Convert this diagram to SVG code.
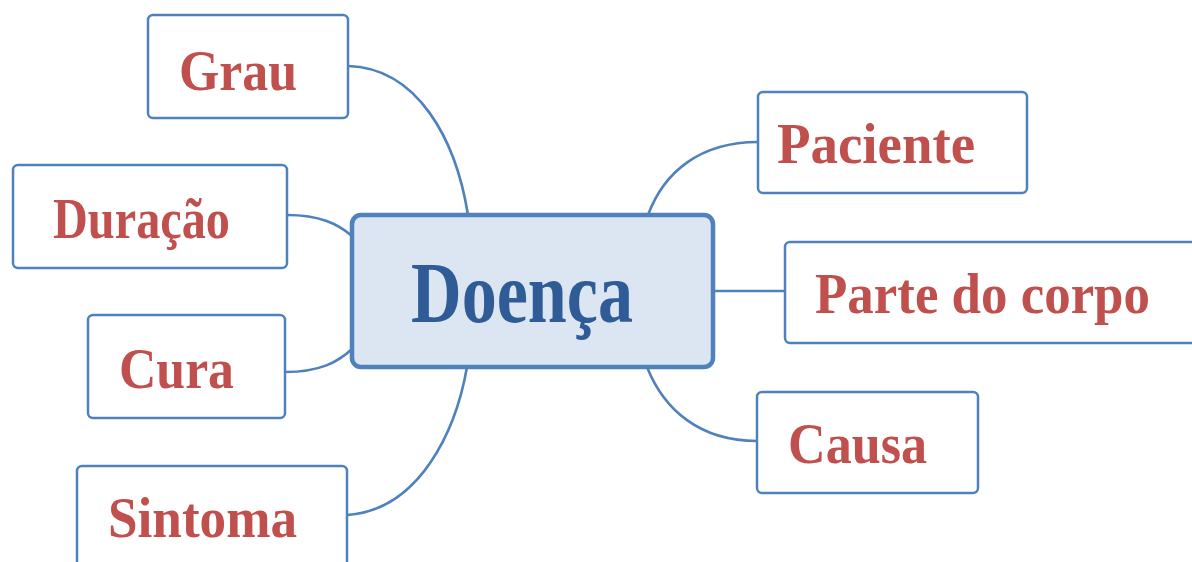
<svg xmlns="http://www.w3.org/2000/svg" width="1192" height="562" viewBox="0 0 1192 562">
  <style>
    .box { fill: #ffffff; stroke: #4f81bd; stroke-width: 2.5; }
    .hub { fill: #dce6f2; stroke: #4f81bd; stroke-width: 4.5; }
    .lbl { font-family: "Liberation Serif", "Times New Roman", serif; font-weight: bold; font-size: 57px; fill: #c0504d; }
    .hubtxt { font-family: "Liberation Serif", "Times New Roman", serif; font-weight: bold; font-size: 86px; fill: #2f5c97; }
    .link { fill: none; stroke: #4f81bd; stroke-width: 2.6; stroke-linecap: round; }
  </style>
  <rect width="1192" height="562" fill="#ffffff"/>

  <!-- branch lines from the central topic -->
  <g id="connectors">
    <path class="link" d="M348,66 C418,68 456,140 468,215"/>
    <path class="link" d="M287,215 C320,215 338,224 352,236"/>
    <path class="link" d="M285,372 C320,372 338,362 352,349"/>
    <path class="link" d="M347,515 C420,510 456,430 467,367"/>
    <path class="link" d="M758,142 C700,142 664,172 648,215"/>
    <path class="link" d="M713,291 L785,291"/>
    <path class="link" d="M757,441 C700,441 664,410 647,367"/>
  </g>

  <g id="doenca">
    <rect class="hub" x="352" y="215" width="361" height="152" rx="9"/>
    <text class="hubtxt" x="411" y="322" textLength="222" lengthAdjust="spacingAndGlyphs">Doença</text>
  </g>

  <g id="grau">
    <rect class="box" x="148" y="15" width="200" height="103" rx="5"/>
    <text class="lbl" x="179" y="90" textLength="118" lengthAdjust="spacingAndGlyphs">Grau</text>
  </g>

  <g id="duracao">
    <rect class="box" x="13" y="165" width="274" height="103" rx="5"/>
    <text class="lbl" x="53" y="238" textLength="177" lengthAdjust="spacingAndGlyphs">Duração</text>
  </g>

  <g id="cura">
    <rect class="box" x="88" y="315" width="197" height="103" rx="5"/>
    <text class="lbl" x="119" y="388" textLength="115" lengthAdjust="spacingAndGlyphs">Cura</text>
  </g>

  <g id="sintoma">
    <rect class="box" x="77" y="466" width="270" height="110" rx="5"/>
    <text class="lbl" x="108" y="537" textLength="189" lengthAdjust="spacingAndGlyphs">Sintoma</text>
  </g>

  <g id="paciente">
    <rect class="box" x="758" y="92" width="269" height="101" rx="5"/>
    <text class="lbl" x="777" y="163" textLength="198" lengthAdjust="spacingAndGlyphs">Paciente</text>
  </g>

  <g id="parte-do-corpo">
    <rect class="box" x="785" y="242" width="420" height="101" rx="5"/>
    <text class="lbl" x="815" y="313" textLength="335" lengthAdjust="spacingAndGlyphs">Parte do corpo</text>
  </g>

  <g id="causa">
    <rect class="box" x="757" y="392" width="221" height="101" rx="5"/>
    <text class="lbl" x="788" y="463" textLength="139" lengthAdjust="spacingAndGlyphs">Causa</text>
  </g>
</svg>
